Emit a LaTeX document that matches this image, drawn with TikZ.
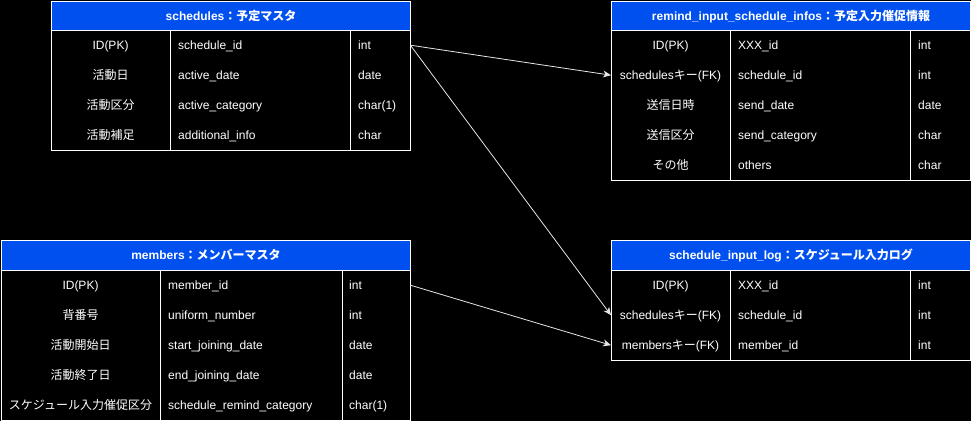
\documentclass[tikz,border=0pt]{standalone}
\usepackage{fontspec}
\setmainfont{Liberation Sans}
\newfontfamily\jpfont{Noto Sans CJK JP}
\newcommand\J[1]{{\jpfont #1}}
\usetikzlibrary{arrows.meta}
\definecolor{hblue}{HTML}{0050EF}
\definecolor{relgray}{HTML}{E6E6E6}
\begin{document}
\begin{tikzpicture}[x=1pt,y=-1pt,
  font=\fontsize{12}{14}\selectfont,
  hdr/.style={draw=white, line width=1pt, fill=hblue, text=white, font=\fontsize{12}{14}\selectfont\bfseries,
    minimum height=29.5, inner sep=0, text height=8.6, text depth=0, anchor=north west},
  colbox/.style={draw=white, line width=1pt, fill=black, anchor=north west, inner sep=0},
  cellc/.style={text=white, anchor=center, inner sep=0, text height=8.6, text depth=0},
  celll/.style={text=white, anchor=west, inner sep=0, text height=8.6, text depth=0},
  rowbox/.style={draw=none, anchor=north west, inner sep=0, minimum height=30},
  rel/.style={draw=relgray, line width=0.8pt, -{Stealth[length=8,width=7,inset=2.5]}}
]
\fill[black] (0,0) rectangle (971,421);
\useasboundingbox (0,0) rectangle (971,421);

% ---------- schedules ----------
\node[hdr, minimum width=359] (S) at (51,0.5) {schedules\J{：予定マスタ}};
\node[colbox, minimum width=119, minimum height=120] (S-c1) at (51,30) {};
\node[colbox, minimum width=180, minimum height=120] (S-c2) at (170,30) {};
\node[colbox, minimum width=60, minimum height=120] (S-c3) at (350,30) {};
\foreach \a/\b/\c [count=\i] in {ID(PK)/schedule\_id/int,
  \J{活動日}/active\_date/date,
  \J{活動区分}/active\_category/char(1),
  \J{活動補足}/additional\_info/char}{
  \node[cellc] (S-a\i) at (110.5,{15+30*\i}) {\a};
  \node[celll] (S-b\i) at (178,{15+30*\i}) {\b};
  \node[celll] (S-t\i) at (358,{15+30*\i}) {\c};
}
\node[rowbox, minimum width=359] (S-r1) at (51,30) {};

% ---------- remind_input_schedule_infos ----------
\node[hdr, minimum width=359] (R) at (611,0.5) {remind\_input\_schedule\_infos\J{：予定入力催促情報}};
\node[colbox, minimum width=119, minimum height=150] (R-c1) at (611,30) {};
\node[colbox, minimum width=180, minimum height=150] (R-c2) at (730,30) {};
\node[colbox, minimum width=60, minimum height=150] (R-c3) at (910,30) {};
\foreach \a/\b/\c [count=\i] in {ID(PK)/XXX\_id/int,
  schedules\J{キー}(FK)/schedule\_id/int,
  \J{送信日時}/send\_date/date,
  \J{送信区分}/send\_category/char,
  \J{その他}/others/char}{
  \node[cellc] (R-a\i) at (670.5,{15+30*\i}) {\a};
  \node[celll] (R-b\i) at (738,{15+30*\i}) {\b};
  \node[celll] (R-t\i) at (918,{15+30*\i}) {\c};
}
\node[rowbox, minimum width=359] (R-r2) at (611,60) {};

% ---------- members ----------
\node[hdr, minimum width=409, minimum height=30] (M) at (1,240) {members\J{：メンバーマスタ}};
\node[colbox, minimum width=159, minimum height=150] (M-c1) at (1,270) {};
\node[colbox, minimum width=182, minimum height=150] (M-c2) at (160,270) {};
\node[colbox, minimum width=68, minimum height=150] (M-c3) at (342,270) {};
\foreach \a/\b/\c [count=\i] in {ID(PK)/member\_id/int,
  \J{背番号}/uniform\_number/int,
  \J{活動開始日}/start\_joining\_date/date,
  \J{活動終了日}/end\_joining\_date/date,
  \J{スケジュール入力催促区分}/schedule\_remind\_category/char(1)}{
  \node[cellc] (M-a\i) at (80.5,{255+30*\i}) {\a};
  \node[celll] (M-b\i) at (168,{255+30*\i}) {\b};
  \node[celll] (M-t\i) at (349,{255+30*\i}) {\c};
}
\node[rowbox, minimum width=409] (M-r1) at (1,270) {};

% ---------- schedule_input_log ----------
\node[hdr, minimum width=359, minimum height=30] (L) at (611,240) {schedule\_input\_log\J{：スケジュール入力ログ}};
\node[colbox, minimum width=119, minimum height=90] (L-c1) at (611,270) {};
\node[colbox, minimum width=180, minimum height=90] (L-c2) at (730,270) {};
\node[colbox, minimum width=60, minimum height=90] (L-c3) at (910,270) {};
\foreach \a/\b/\c [count=\i] in {ID(PK)/XXX\_id/int,
  schedules\J{キー}(FK)/schedule\_id/int,
  members\J{キー}(FK)/member\_id/int}{
  \node[cellc] (L-a\i) at (670.5,{255+30*\i}) {\a};
  \node[celll] (L-b\i) at (738,{255+30*\i}) {\b};
  \node[celll] (L-t\i) at (918,{255+30*\i}) {\c};
}
\node[rowbox, minimum width=359] (L-r2) at (611,300) {};
\node[rowbox, minimum width=359] (L-r3) at (611,330) {};

% ---------- relations ----------
\draw[rel] (S-r1.east) -- (R-r2.west);
\draw[rel] (S-r1.east) -- (L-r2.west);
\draw[rel] (M-r1.east) -- (L-r3.west);
\end{tikzpicture}
\end{document}
